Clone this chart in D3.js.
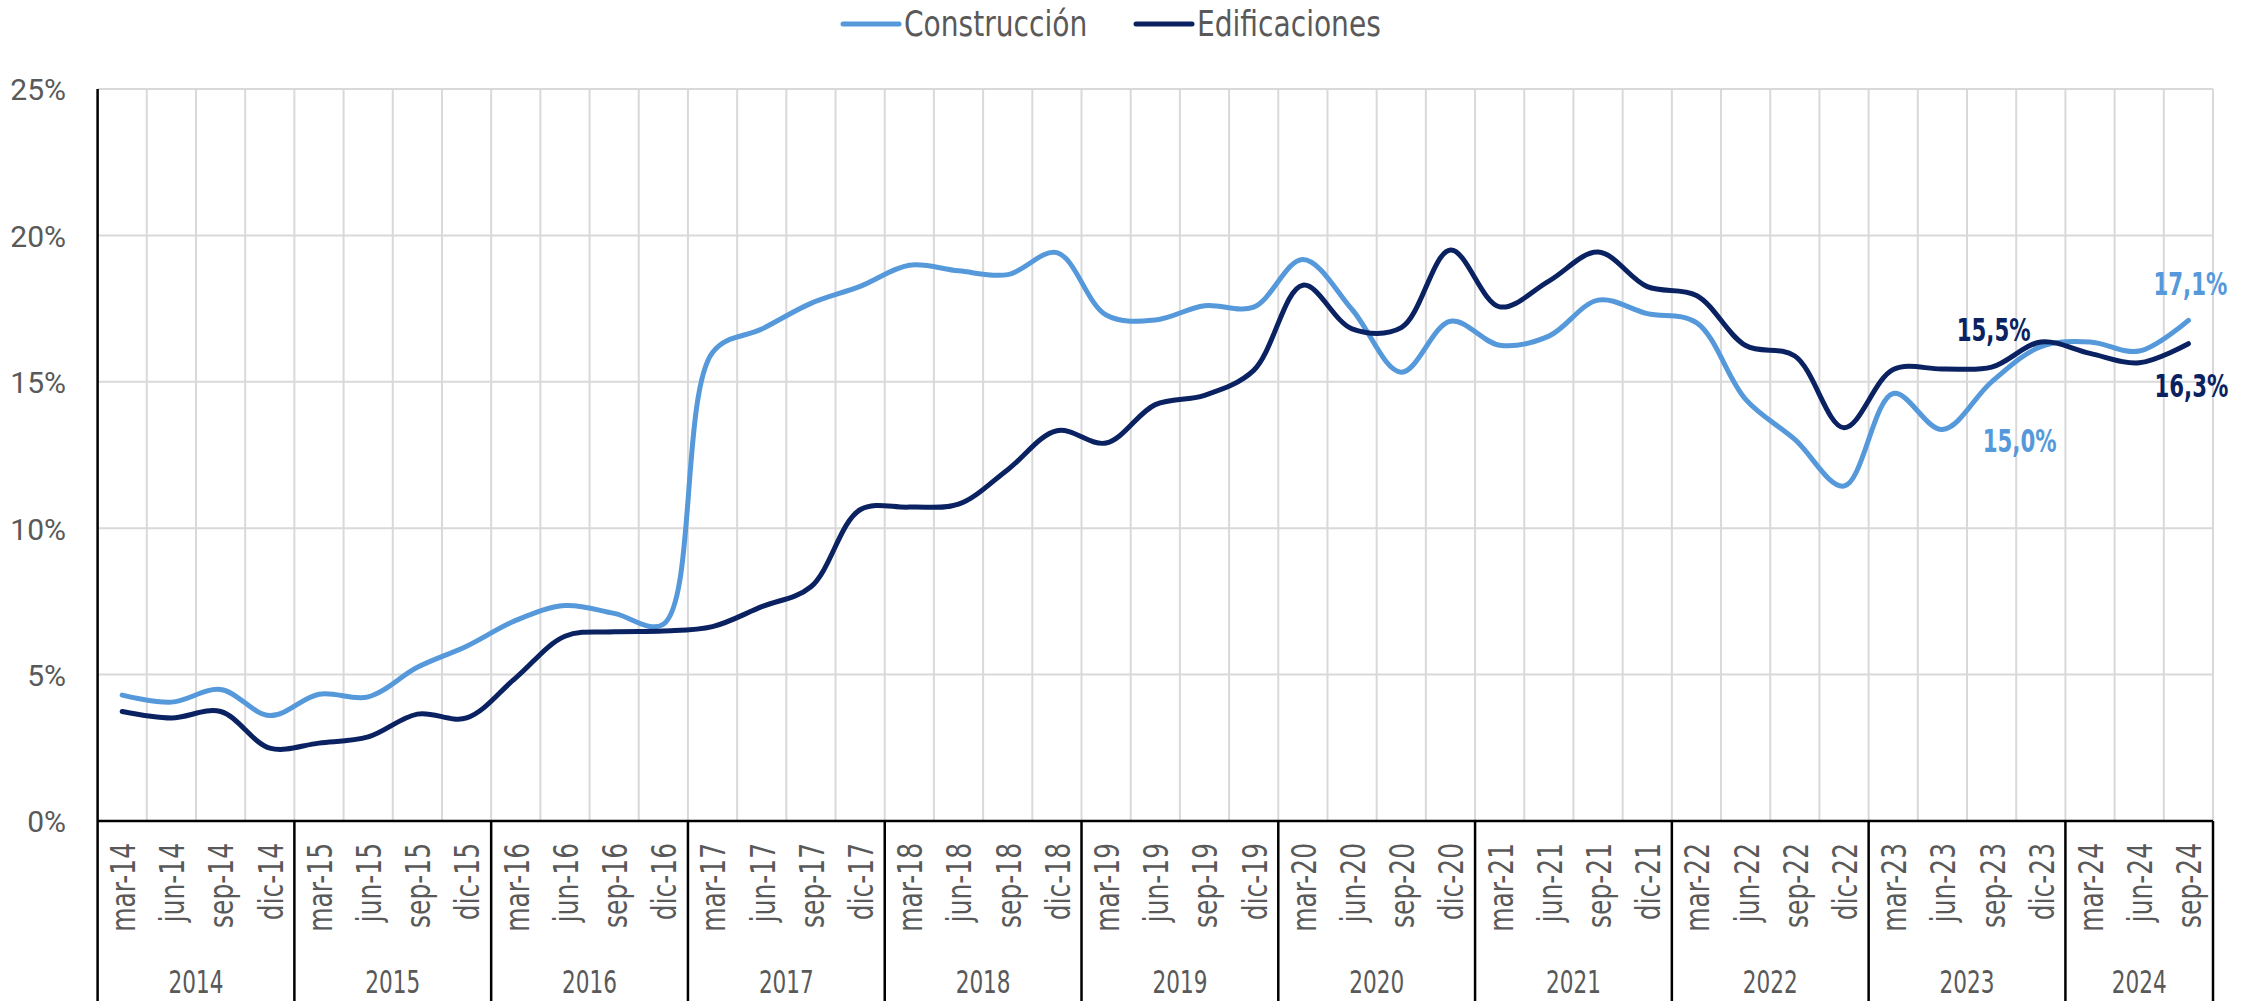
<!DOCTYPE html>
<html><head><meta charset="utf-8">
<script src="https://cdn.jsdelivr.net/npm/d3@7"></script>
<style>
html,body{margin:0;padding:0;background:#fff;}
svg{display:block;}
</style></head><body>
<svg id="c" width="2251" height="1001"></svg>
<script>
// ---------- data ----------
const years = ["2014","2015","2016","2017","2018","2019","2020","2021","2022","2023","2024"];
const months = ["mar","jun","sep","dic"];
const categories = [];
years.forEach(y => months.forEach(m => categories.push(m + "-" + y.slice(2))));
categories.splice(43); // last quarter: sep-24

const construccion = [
  4.30, 4.06, 4.49, 3.60,
  4.33, 4.24, 5.25, 5.97,
  6.85, 7.36, 7.09, 6.72,
  16.0, 16.8, 17.68, 18.26,
  18.98, 18.79, 18.66, 19.41,
  17.28, 17.11, 17.6, 17.55,
  19.18, 17.47, 15.33, 17.07,
  16.25, 16.56, 17.79, 17.33,
  17.02, 14.40, 13.03, 11.44,
  14.6, 13.37, 15.0, 16.2,
  16.36, 16.05, 17.1
];
const edificaciones = [
  3.74, 3.52, 3.74, 2.49,
  2.66, 2.87, 3.65, 3.52,
  4.89, 6.31, 6.46, 6.49,
  6.64, 7.32, 8.0, 10.63,
  10.72, 10.82, 12.0, 13.33,
  12.91, 14.22, 14.54, 15.39,
  18.3, 16.81, 16.85, 19.5,
  17.56, 18.44, 19.43, 18.25,
  17.95, 16.24, 15.88, 13.43,
  15.42, 15.44, 15.5, 16.36,
  15.97, 15.65, 16.3
];
const yTicks = [0, 5, 10, 15, 20, 25];
const seriesNames = ["Construcción", "Edificaciones"];
const dataLabels = [
  {series: 0, cat: "sep-24", text: "17,1%"},
  {series: 1, cat: "sep-24", text: "16,3%"},
  {series: 1, cat: "sep-23", text: "15,5%"},
  {series: 0, cat: "sep-23", text: "15,0%"}
];

// ---------- layout ----------
const colors = ["#5599DB", "#0A2261"];
const narrow = "'Liberation Sans Narrow','DejaVu Sans Condensed','DejaVu Sans',sans-serif";
const L = 97.6, R = 2213, T = 89, B = 821, H = 1001;
const svg = d3.select("#c");

const x = d3.scaleBand().domain(categories).range([L, R]).padding(0);
const y = d3.scaleLinear().domain([0, 25]).range([B, T]);
const bw = x.bandwidth();

// horizontal gridlines
svg.append("g").selectAll("line").data(yTicks.filter(d => d > 0)).join("line")
  .attr("x1", L).attr("x2", R).attr("y1", d => y(d)).attr("y2", d => y(d))
  .attr("stroke", "#d9d9d9").attr("stroke-width", 2);
// vertical gridlines (category boundaries)
svg.append("g").selectAll("line").data(categories).join("line")
  .attr("x1", d => x(d) + bw).attr("x2", d => x(d) + bw)
  .attr("y1", T).attr("y2", B)
  .attr("stroke", "#d9d9d9").attr("stroke-width", 2);

// y axis labels
const yAxis = d3.axisLeft(y).tickValues(yTicks).tickSize(0).tickPadding(0)
  .tickFormat(d => d + "%");
const gy = svg.append("g").attr("transform", `translate(66,0)`).call(yAxis);
gy.select(".domain").remove();
gy.selectAll("text").attr("font-family", "Roboto, sans-serif").attr("font-size", 30)
  .attr("fill", "#595959").attr("dy", "0.36em");

// month labels
svg.append("g").selectAll("text").data(categories).join("text")
  .attr("transform", d => `translate(${x(d) + bw / 2 + 1},843) rotate(-90) scale(0.84,1)`)
  .attr("text-anchor", "end").attr("dy", "0.36em")
  .attr("font-family", narrow).attr("font-size", 33).attr("fill", "#595959")
  .text(d => d);

// year labels and separators
const yearInfo = years.map(yr => {
  const cats = categories.filter(c => c.endsWith("-" + yr.slice(2)));
  return {yr, x0: x(cats[0]), x1: x(cats[cats.length - 1]) + bw};
});
svg.append("g").selectAll("text").data(yearInfo).join("text")
  .attr("transform", d => `translate(${(d.x0 + d.x1) / 2},993) scale(0.75,1)`)
  .attr("text-anchor", "middle")
  .attr("font-family", narrow).attr("font-size", 32).attr("fill", "#595959")
  .text(d => d.yr);
svg.append("g").selectAll("line").data(yearInfo).join("line")
  .attr("x1", d => d.x1).attr("x2", d => d.x1).attr("y1", B).attr("y2", H)
  .attr("stroke", "#000").attr("stroke-width", 2.5);

// axes lines
svg.append("line").attr("x1", L).attr("x2", R).attr("y1", B).attr("y2", B)
  .attr("stroke", "#000").attr("stroke-width", 2.5);
svg.append("line").attr("x1", L).attr("x2", L).attr("y1", T).attr("y2", H)
  .attr("stroke", "#000").attr("stroke-width", 2.5);

// series lines
const line = d3.line()
  .x((d, i) => x(categories[i]) + bw / 2)
  .y(d => y(d))
  .curve(d3.curveCatmullRom.alpha(0.5));
[construccion, edificaciones].forEach((s, k) => {
  svg.append("path").datum(s).attr("d", line)
    .attr("fill", "none").attr("stroke", colors[k]).attr("stroke-width", 5)
    .attr("stroke-linecap", "round").attr("stroke-linejoin", "round");
});

// data labels
const series = [construccion, edificaciones];
const labelOffsets = {"17,1%": [2, -25], "16,3%": [3, 53], "15,5%": [2, -26], "15,0%": [28, 70]};
svg.append("g").selectAll("text").data(dataLabels).join("text")
  .attr("transform", d => `translate(${x(d.cat) + bw / 2 + labelOffsets[d.text][0]},${y(series[d.series][categories.indexOf(d.cat)]) + labelOffsets[d.text][1]}) scale(0.74,1)`)
  .attr("text-anchor", "middle")
  .attr("font-family", narrow).attr("font-weight", "bold").attr("font-size", 32)
  .attr("fill", d => colors[d.series])
  .text(d => d.text);

// legend
const legendItems = [{x: 843, name: seriesNames[0], c: colors[0]}, {x: 1136, name: seriesNames[1], c: colors[1]}];
const lg = svg.append("g");
legendItems.forEach(it => {
  lg.append("line").attr("x1", it.x).attr("x2", it.x + 56).attr("y1", 24).attr("y2", 24)
    .attr("stroke", it.c).attr("stroke-width", 5).attr("stroke-linecap", "round");
  lg.append("text").attr("transform", `translate(${it.x + 61},36) scale(0.867,1)`)
    .attr("font-family", narrow).attr("font-size", 36).attr("fill", "#595959")
    .text(it.name);
});
</script>
</body></html>
